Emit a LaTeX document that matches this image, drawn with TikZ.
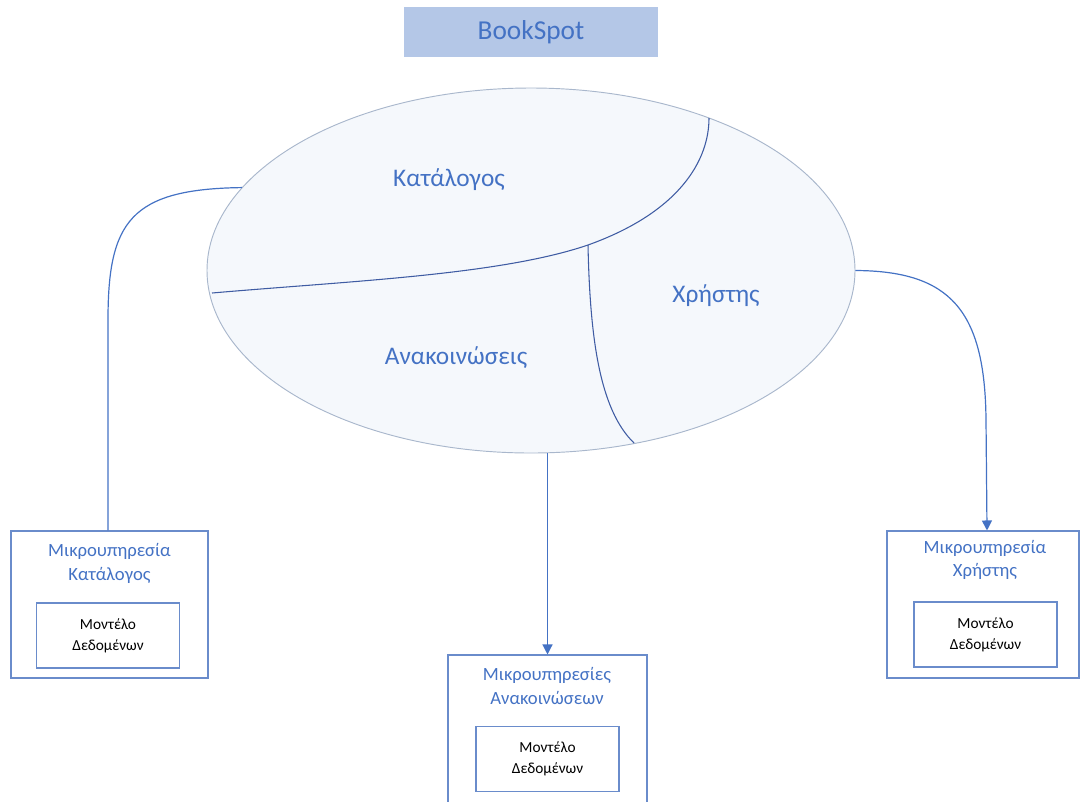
\documentclass[tikz,border=0pt]{standalone}
\usepackage{fontspec}
\setmainfont{Carlito}
\usetikzlibrary{shapes.geometric,arrows.meta}
\definecolor{accent}{HTML}{4472C4}
\definecolor{titlefill}{HTML}{B4C7E7}
\definecolor{ellfill}{HTML}{F5F8FC}
\definecolor{ellline}{HTML}{A9B7CC}
\definecolor{divline}{HTML}{3F5CA3}
\definecolor{boxline}{HTML}{6A8CCB}
\begin{document}
\begin{tikzpicture}[x=0.75pt,y=-0.75pt,
  titlebox/.style={fill=titlefill, draw=none, minimum width=190.5pt, minimum height=37.5pt,
    inner sep=0pt, text=accent, font=\fontsize{20.5}{24}\selectfont},
  region/.style={text=accent, font=\fontsize{19}{22}\selectfont},
  outerbox/.style={draw=boxline, line width=0.8pt, inner sep=0pt},
  innerbox/.style={draw=boxline, line width=0.8pt, inner sep=0pt, minimum width=107.25pt,
    minimum height=48.75pt, align=center, font=\fontsize{11.5}{16}\selectfont},
  boxtitle/.style={text=accent, align=center, font=\fontsize{14}{17.5}\selectfont},
  link/.style={draw=accent, line width=0.9pt},
  arrowlink/.style={link, -{Triangle[length=7.5pt,width=7.5pt]}},
  divider/.style={draw=divline, line width=0.8pt}]
\useasboundingbox (0,0) rectangle (1080,801);

% title
\node[titlebox] (title) at (531,32) {BookSpot};

% central ellipse with its three regions
\node[ellipse, draw=ellline, fill=ellfill, line width=0.7pt, inner sep=0pt,
  minimum width=486pt, minimum height=273.75pt] (ell) at (531,270.5) {};
\coordinate (split) at (588,245);
\draw[divider] (212,293) .. controls (350,281) and (500,275) .. (split)
  .. controls (680,212) and (709,160) .. (709,118);
\draw[divider] (split) .. controls (590,340) and (600,410) .. (634,443);
\node[region] (cat) at (449,180) {Κατάλογος};
\node[region] (ann) at (456,358) {Ανακοινώσεις};
\node[region] (usr) at (716,296) {Χρήστης};

% service boxes
\node[outerbox, minimum width=147.75pt, minimum height=110.25pt] (kbox) at (109.5,604.5) {};
\node[boxtitle] (ktitle) at (109.5,563.5) {Μικρουπηρεσία\\Κατάλογος};
\node[innerbox] (kmodel) at (108,635.5) {Μοντέλο\\Δεδομένων};

\node[outerbox, minimum width=149.25pt, minimum height=111pt] (abox) at (547.5,729) {};
\node[boxtitle] (atitle) at (547,686) {Μικρουπηρεσίες\\Ανακοινώσεων};
\node[innerbox] (amodel) at (547.5,759) {Μοντέλο\\Δεδομένων};

\node[outerbox, minimum width=144pt, minimum height=110.25pt] (ubox) at (983,604.5) {};
\node[boxtitle] (utitle) at (985,560) {Μικρουπηρεσία\\Χρήστης};
\node[innerbox] (umodel) at (985.5,634.5) {Μοντέλο\\Δεδομένων};

% connectors
\draw[link] (ell.164.6) .. controls (130,189) and (108,222) .. (108,320) -- (kbox.north -| 108,0);
\draw[arrowlink] (abox.north |- ell.south) -- (abox.north);
\draw[arrowlink] (ell.east) .. controls (950,271) and (985,310) .. (986,420) -- ([xshift=3pt]ubox.north);
\end{tikzpicture}
\end{document}
